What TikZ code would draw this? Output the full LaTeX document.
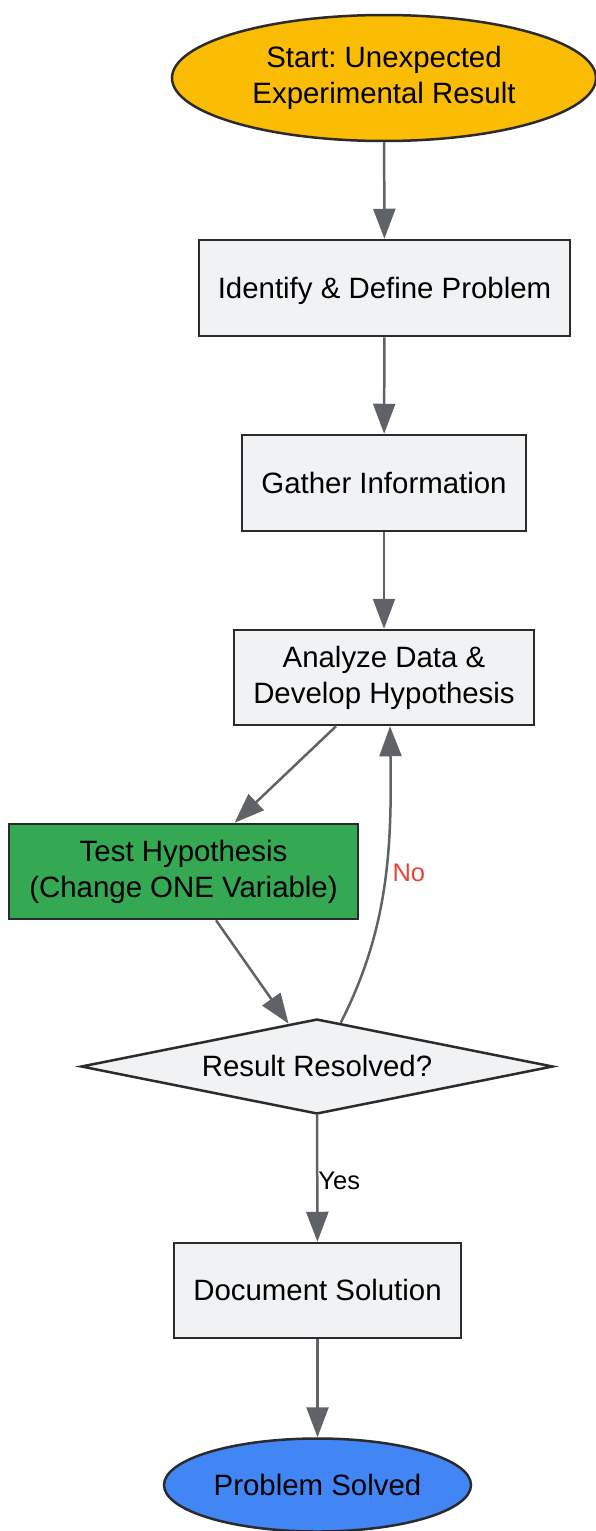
\documentclass[tikz,border=0pt]{standalone}
\usepackage{fontspec}
\setmainfont{Liberation Sans}
\frenchspacing
\usetikzlibrary{shapes.geometric,arrows.meta,calc}
\definecolor{boxfill}{HTML}{F1F2F4}
\definecolor{boxline}{HTML}{2B2B2B}
\definecolor{arrowgray}{HTML}{5F6368}
\definecolor{startfill}{HTML}{FBBC04}
\definecolor{testfill}{HTML}{34A853}
\definecolor{endfill}{HTML}{4285F4}
\definecolor{nored}{HTML}{EA4335}
\newcommand{\mystrut}{\rule[-0.212em]{0pt}{1.117em}}
\begin{document}
\begin{tikzpicture}[x=1pt,y=-1pt,
  every node/.style={font=\fontsize{29.4}{36}\selectfont, align=center, inner sep=0pt,
    execute at begin node=\mystrut, execute at end node=\mystrut},
  stepbox/.style={rectangle, draw=boxline, line width=2.5pt, fill=boxfill},
  oval/.style={ellipse, draw=boxline, line width=2.5pt},
  decide/.style={diamond, draw=boxline, line width=2.5pt, fill=boxfill, aspect=4.97},
  flow/.style={draw=arrowgray, line width=2.5pt, -{Triangle[length=30pt,width=22pt]}},
  lbl/.style={font=\fontsize{25.5}{30}\selectfont}
]
\useasboundingbox (0,0) rectangle (595,1531);
\node[oval, fill=startfill, minimum width=424pt, minimum height=126pt] (start) at (384,78) {Start: Unexpected\\Experimental Result};
\node[stepbox, minimum width=371pt, minimum height=96pt] (ident) at (384.5,288) {Identify \& Define Problem};
\node[stepbox, minimum width=284pt, minimum height=96pt] (gather) at (384,483) {Gather Information};
\node[stepbox, minimum width=300pt, minimum height=95pt] (anal) at (384,677.5) {Analyze Data \&\\Develop Hypothesis};
\node[stepbox, fill=testfill, minimum width=349pt, minimum height=95pt] (test) at (183.5,871.5) {Test Hypothesis\\(Change ONE Variable)};
\node[decide, minimum width=472pt, minimum height=95pt] (dec) at (317,1066.5) {Result Resolved?};
\node[stepbox, minimum width=287pt, minimum height=95pt] (doc) at (317.5,1290.5) {Document Solution};
\node[oval, fill=endfill, minimum width=307pt, minimum height=93pt] (fin) at (317.5,1485) {Problem Solved};

\draw[flow] (start) -- (ident);
\draw[flow] (ident) -- (gather);
\draw[flow] (gather) -- (anal);
\draw[flow] ($(anal.south)+(-48,0)$) -- ($(test.north)+(51,0)$);
\draw[flow] ($(test.south)+(32.5,0)$) -- ($(dec.north)!0.12!(dec.west)$);
\draw[flow] ($(dec.north)!0.1!(dec.east)$) .. controls (388,930) and (392,850) .. ($(anal.south)+(6,0)$)
  node[pos=0.5, lbl, text=nored, shift={(25,-13)}] {No};
\draw[flow] (dec) -- (doc) node[pos=0.5, lbl, xshift=22pt, yshift=-2pt] {Yes};
\draw[flow] (doc) -- (fin);
\end{tikzpicture}
\end{document}
